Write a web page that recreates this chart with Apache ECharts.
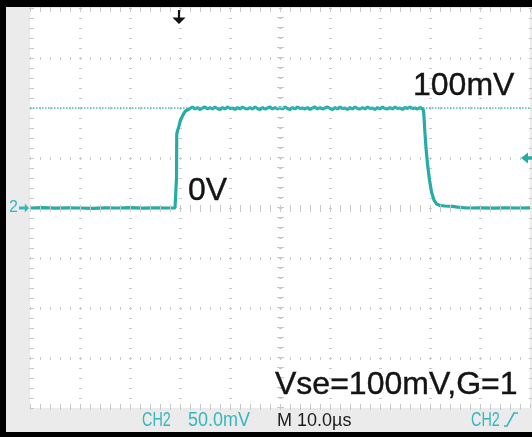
<!DOCTYPE html>
<html>
<head>
<meta charset="utf-8">
<script src="https://cdn.jsdelivr.net/npm/echarts@6/dist/echarts.min.js"></script>
<style>
  html, body { margin: 0; padding: 0; background: #ebebeb; }
  #scope { width: 532px; height: 437px; }
</style>
</head>
<body>
<div id="scope"></div>
<script>
// Scope settings (CH2, 50 mV/div, 10 µs/div), times relative to screen centre
const voltsPerDivMv = 50;
const timePerDivUs = 10;
const triggerTimeUs = -20.2;
const triggerLevelMv = 50;
const cursorMv = 100;
const groundMv = 0;

// CH2 trace, [time µs, voltage mV]
const baselineBefore = [
  [-50, 0], [-47.5, 0.3], [-45, -0.2], [-42.5, 0.2], [-40, 0], [-37.5, -0.3],
  [-35, 0.2], [-32.5, 0], [-30, 0.3], [-27.5, -0.2], [-25, 0.2], [-22.5, 0], [-21, 0.2]
];
const risingEdge = [
  [-20.75, 0.5], [-20.7, 30], [-20.65, 74], [-20.5, 77], [-20.2, 82], [-19.9, 88],
  [-19.6, 91], [-19.3, 94], [-18.9, 97], [-18.5, 99]
];
const plateau = [
  [-18, 99.5], [-17.5, 101], [-17, 99], [-16.5, 100.5], [-16, 98.5], [-15.5, 100],
  [-15, 101], [-14.5, 99], [-14, 100.5], [-13.5, 99], [-13, 101], [-12.5, 99.5],
  [-12, 98.5], [-11.5, 100.5], [-11, 99], [-10.5, 101], [-10, 99.5], [-9.5, 100],
  [-9, 98.5], [-8.5, 100.5], [-8, 99], [-7.5, 101], [-7, 99.5], [-6.5, 99],
  [-6, 100.5], [-5.5, 99], [-5, 101], [-4.5, 99.5], [-4, 98.5], [-3.5, 100.5],
  [-3, 99], [-2.5, 100], [-2, 101], [-1.5, 99], [-1, 100.5], [-0.5, 99],
  [0, 100.5], [0.5, 99], [1, 101], [1.5, 99.5], [2, 98.5], [2.5, 100.5],
  [3, 99], [3.5, 101], [4, 99.5], [4.5, 100], [5, 99], [5.5, 100.5],
  [6, 98.5], [6.5, 100], [7, 101], [7.5, 99], [8, 100.5], [8.5, 99],
  [9, 100], [9.5, 101], [10, 99.5], [10.5, 98.5], [11, 100.5], [11.5, 99],
  [12, 101], [12.5, 99.5], [13, 100], [13.5, 98.5], [14, 100.5], [14.5, 99],
  [15, 101], [15.5, 99.5], [16, 99], [16.5, 100.5], [17, 99], [17.5, 101],
  [18, 99.5], [18.5, 100], [19, 98.5], [19.5, 100.5], [20, 99], [20.5, 101],
  [21, 99.5], [21.5, 99], [22, 100.5], [22.5, 99], [23, 101], [23.5, 99.5],
  [24, 100], [24.5, 98.5], [25, 100.5], [25.5, 99.5], [26, 101], [26.5, 99.5],
  [27, 100], [27.5, 99], [28, 100.5], [28.4, 100]
];
const fallingEdge = [
  [28.6, 99], [28.75, 95], [28.95, 78], [29.2, 60], [29.5, 44], [29.9, 28],
  [30.3, 16], [30.8, 8], [31.3, 4], [32, 2.5], [33, 2], [34.5, 1.6], [35.5, 0.8], [36.5, 0.3]
];
const baselineAfter = [
  [37.5, 0], [40, 0.2], [42.5, -0.2], [45, 0.2], [47.5, 0], [50, 0.2]
];

const trace = [].concat(baselineBefore, risingEdge, plateau, fallingEdge, baselineAfter);

const TEAL = '#24ada5';
const TEAL_TEXT = '#38b6bd';
const GRID = '#c9c9c9';

const chart = echarts.init(document.getElementById('scope'), null, { renderer: 'canvas' });

const edgeTicks = {
  axisLine: { show: false },
  axisTick: { show: true, inside: true, length: 4, lineStyle: { color: GRID, width: 1 } },
  minorTick: { show: true, splitNumber: 5, length: 4, lineStyle: { color: GRID, width: 1 } },
  axisLabel: { show: false }
};
const dottedSplit = { show: true, lineStyle: { color: GRID, width: 3, type: [1, 9] } };

chart.setOption({
  animation: false,
  backgroundColor: '#ebebeb',
  grid: { left: 30, top: 8, width: 500, height: 400, show: true, backgroundColor: '#ffffff', borderWidth: 0 },
  xAxis: [
    Object.assign({ type: 'value', min: -5 * timePerDivUs, max: 5 * timePerDivUs, interval: timePerDivUs,
      position: 'bottom', splitLine: dottedSplit }, edgeTicks, { axisLine: { show: false, onZero: false } }),
    Object.assign({ type: 'value', min: -5 * timePerDivUs, max: 5 * timePerDivUs, interval: timePerDivUs,
      position: 'top', splitLine: { show: false } }, edgeTicks, { axisLine: { show: false, onZero: false } })
  ],
  yAxis: [
    Object.assign({ type: 'value', min: -4 * voltsPerDivMv, max: 4 * voltsPerDivMv, interval: voltsPerDivMv,
      position: 'left', splitLine: dottedSplit }, edgeTicks, { axisLine: { show: false, onZero: false } })
  ],
  series: [
    {
      // centre graticule cross with fine division marks
      type: 'line', data: [], silent: true, z: 1,
      markLine: {
        silent: true, symbol: 'none', label: { show: false },
        lineStyle: { color: GRID, width: 7, type: [1, 9] },
        data: [{ yAxis: 0 }, { xAxis: 0 }]
      }
    },
    {
      // voltage cursor
      type: 'line', data: [], silent: true, z: 2,
      markLine: {
        silent: true, symbol: 'none', label: { show: false },
        lineStyle: { color: '#45bfbb', width: 1.5, type: [1.5, 1.5] },
        data: [{ yAxis: cursorMv }]
      }
    },
    {
      name: 'CH2', type: 'line', data: trace, showSymbol: false, z: 3,
      lineStyle: { color: TEAL, width: 3.2 },
      markPoint: {
        silent: true,
        data: [
          { // trigger position
            coord: [triggerTimeUs, 4 * voltsPerDivMv], symbol: 'path://M5,0 L7,0 L7,7 L12,7 L6,13 L0,7 L5,7 Z',
            symbolSize: [13, 14], symbolOffset: [0, 9], itemStyle: { color: '#111111' }, label: { show: false }
          },
          { // trigger level
            coord: [5 * timePerDivUs, triggerLevelMv], symbol: 'path://M0,6 L7,0 L7,4 L14,4 L14,8 L7,8 L7,12 Z',
            symbolSize: [14, 11], symbolOffset: [-2, 0], itemStyle: { color: TEAL }, label: { show: false }
          },
          { // channel ground reference
            coord: [-5 * timePerDivUs, groundMv], symbol: 'path://M0,4 L7,4 L7,0 L12,6 L7,12 L7,8 L0,8 Z',
            symbolSize: [10, 9], symbolOffset: [-6, 0], itemStyle: { color: TEAL_TEXT },
            label: { show: true, position: 'left', distance: 1, formatter: '2', color: TEAL_TEXT,
              fontFamily: 'Liberation Sans', fontSize: 16 }
          }
        ]
      }
    }
  ]
});

// Annotations and status line
const at = (t, v) => chart.convertToPixel({ gridIndex: 0 }, [t, v]);
const cursorY = at(0, cursorMv)[1];
const groundY = at(0, groundMv)[1];
const bigFont = { fontFamily: 'Liberation Sans, Arial, sans-serif', fontSize: 32, fill: '#141414',
  align: 'left', verticalAlign: 'middle', stroke: '#141414', lineWidth: 0.4 };
const statusFont = { fontFamily: 'Liberation Sans, Arial, sans-serif', fontSize: 20,
  align: 'left', verticalAlign: 'middle' };

chart.setOption({
  graphic: [
    { type: 'rect', shape: { x: 0, y: 0, width: 532, height: 7 }, style: { fill: '#000' }, z: 100 },
    { type: 'rect', shape: { x: 0, y: 0, width: 6, height: 437 }, style: { fill: '#000' }, z: 100 },
    { type: 'rect', shape: { x: 0, y: 432, width: 532, height: 5 }, style: { fill: '#000' }, z: 100 },
    { type: 'text', x: 413, y: cursorY - 21.5, style: Object.assign({ text: cursorMv + 'mV' }, bigFont), z: 50 },
    { type: 'text', x: 188, y: groundY - 17, style: Object.assign({ text: groundMv + 'V' }, bigFont), z: 50 },
    { type: 'text', x: 275, y: 385, style: Object.assign({ text: 'Vse=100mV,G=1' }, bigFont), z: 50 },
    { type: 'text', x: 142, y: 420, scaleX: 0.72,
      style: Object.assign({ text: 'CH2', fill: TEAL_TEXT }, statusFont), z: 50 },
    { type: 'text', x: 188, y: 420, scaleX: 0.9,
      style: Object.assign({ text: voltsPerDivMv.toFixed(1) + 'mV', fill: TEAL_TEXT }, statusFont), z: 50 },
    { type: 'text', x: 277, y: 421,
      style: Object.assign({ text: 'M ' + timePerDivUs.toFixed(1) + 'µs', fill: '#1c1c1c' }, statusFont, { fontSize: 18 }), z: 50 },
    { type: 'text', x: 471, y: 420, scaleX: 0.72,
      style: Object.assign({ text: 'CH2', fill: TEAL_TEXT }, statusFont), z: 50 },
    { type: 'polyline', shape: { points: [[504, 426], [507, 426], [514, 413], [518, 413]] },
      style: { stroke: TEAL_TEXT, lineWidth: 1.6, fill: null }, z: 50 }
  ]
});
</script>
</body>
</html>
